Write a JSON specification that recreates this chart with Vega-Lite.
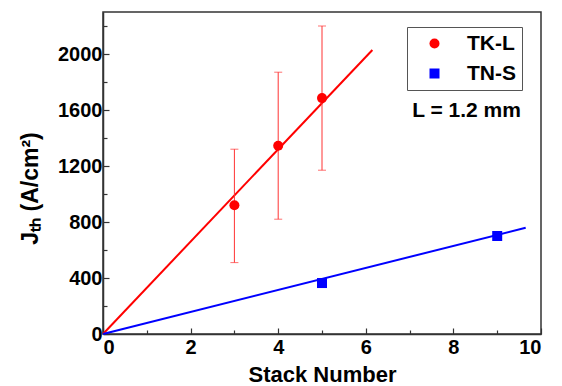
{
  "$schema": "https://vega.github.io/schema/vega-lite/v6.json",
  "width": 438,
  "height": 322,
  "autosize": {"type": "none"},
  "padding": {"left": 103, "top": 12, "right": 21, "bottom": 52},
  "background": "white",
  "config": {
    "font": "Liberation Sans",
    "view": {"stroke": "#333333", "strokeWidth": 1.5},
    "axis": {
      "grid": false,
      "domainColor": "#333333",
      "domainWidth": 1.5,
      "tickColor": "#333333",
      "tickWidth": 1.2,
      "labelFont": "Liberation Sans",
      "labelFontWeight": "bold",
      "labelFontSize": 20,
      "labelColor": "black",
      "titleFont": "Liberation Sans",
      "titleFontWeight": "bold",
      "titleFontSize": 22,
      "titleColor": "black"
    }
  },
  "datasets": {
    "pts": [
      {"series": "TK-L", "stack": 3, "jth": 920, "lo": 510, "hi": 1320},
      {"series": "TK-L", "stack": 4, "jth": 1345, "lo": 820, "hi": 1870},
      {"series": "TK-L", "stack": 5, "jth": 1685, "lo": 1170, "hi": 2200},
      {"series": "TN-S", "stack": 5, "jth": 364},
      {"series": "TN-S", "stack": 9, "jth": 700}
    ],
    "fits": [
      {"series": "TK-L", "stack": 0, "jth": 0},
      {"series": "TK-L", "stack": 6.15, "jth": 2029},
      {"series": "TN-S", "stack": 0, "jth": 0},
      {"series": "TN-S", "stack": 9.65, "jth": 759}
    ],
    "notes": [
      {"stack": 8.3, "jth": 1595, "label": "L = 1.2 mm"}
    ]
  },
  "encoding": {
    "x": {
      "field": "stack",
      "type": "quantitative",
      "scale": {"domain": [0, 10], "nice": false},
      "axis": {
        "title": "Stack Number",
        "values": [0, 1, 2, 3, 4, 5, 6, 7, 8, 9, 10],
        "labelExpr": "datum.value % 2 === 0 ? datum.label : ''",
        "tickSize": {"condition": {"test": "datum.value % 2 === 0", "value": -6}, "value": -4},
        "labelPadding": 9,
        "titlePadding": 7
      }
    },
    "y": {
      "field": "jth",
      "type": "quantitative",
      "scale": {"domain": [0, 2300], "nice": false},
      "axis": {
        "title": "Jₜₕ (A/cm²)",
        "values": [0, 200, 400, 600, 800, 1000, 1200, 1400, 1600, 1800, 2000, 2200],
        "labelExpr": "datum.value % 400 === 0 ? datum.label : ''",
        "format": "d",
        "tickSize": {"condition": {"test": "datum.value % 400 === 0", "value": -6}, "value": -4},
        "labelPadding": 7,
        "titleFontSize": 23,
        "titleX": -73,
        "titleY": 176,
        "titleAngle": -90,
        "titleAlign": "center",
        "titleBaseline": "middle"
      }
    }
  },
  "layer": [
    {
      "data": {"name": "fits"},
      "transform": [{"filter": "datum.series === 'TK-L'"}],
      "mark": {"type": "line", "strokeWidth": 2, "color": "#ff0000"},
      "encoding": {}
    },
    {
      "data": {"name": "fits"},
      "transform": [{"filter": "datum.series === 'TN-S'"}],
      "mark": {"type": "line", "strokeWidth": 2, "color": "#0000ff"},
      "encoding": {}
    },
    {
      "data": {"name": "pts"},
      "transform": [{"filter": "isValid(datum.lo)"}],
      "mark": {"type": "rule", "color": "#ff3333", "strokeWidth": 1},
      "encoding": {
        "y": {"field": "lo", "type": "quantitative"},
        "y2": {"field": "hi"}
      }
    },
    {
      "data": {"name": "pts"},
      "transform": [{"filter": "isValid(datum.lo)"}, {"fold": ["lo", "hi"], "as": ["end", "val"]}],
      "mark": {"type": "tick", "orient": "horizontal", "color": "#ff3333", "size": 8, "thickness": 1},
      "encoding": {
        "y": {"field": "val", "type": "quantitative"}
      }
    },
    {
      "data": {"name": "pts"},
      "mark": {"type": "point", "filled": true, "opacity": 1, "size": 100},
      "encoding": {
        "color": {
          "field": "series",
          "type": "nominal",
          "scale": {"domain": ["TK-L", "TN-S"], "range": ["#ff0000", "#0000ff"]},
          "legend": {
            "title": null,
            "orient": "none",
            "legendX": 304,
            "legendY": 15,
            "direction": "vertical",
            "strokeColor": "#555555",
            "fillColor": "white",
            "padding": 6,
            "symbolOffset": 11,
            "labelOffset": 22,
            "rowPadding": 8,
            "labelFont": "Liberation Sans",
            "labelFontWeight": "bold",
            "labelFontSize": 21,
            "labelColor": "black",
            "symbolSize": 100,
            "symbolStrokeWidth": 0
          }
        },
        "shape": {
          "field": "series",
          "type": "nominal",
          "scale": {"domain": ["TK-L", "TN-S"], "range": ["circle", "square"]},
          "legend": {
            "title": null,
            "orient": "none",
            "legendX": 304,
            "legendY": 15,
            "direction": "vertical",
            "strokeColor": "#555555",
            "fillColor": "white",
            "padding": 6,
            "symbolOffset": 11,
            "labelOffset": 22,
            "rowPadding": 8,
            "labelFont": "Liberation Sans",
            "labelFontWeight": "bold",
            "labelFontSize": 21,
            "labelColor": "black",
            "symbolSize": 100,
            "symbolStrokeWidth": 0
          }
        }
      }
    },
    {
      "data": {"name": "notes"},
      "mark": {"type": "text", "font": "Liberation Sans", "fontWeight": "bold", "fontSize": 21, "color": "black", "align": "center", "baseline": "middle"},
      "encoding": {
        "text": {"field": "label"}
      }
    }
  ]
}
